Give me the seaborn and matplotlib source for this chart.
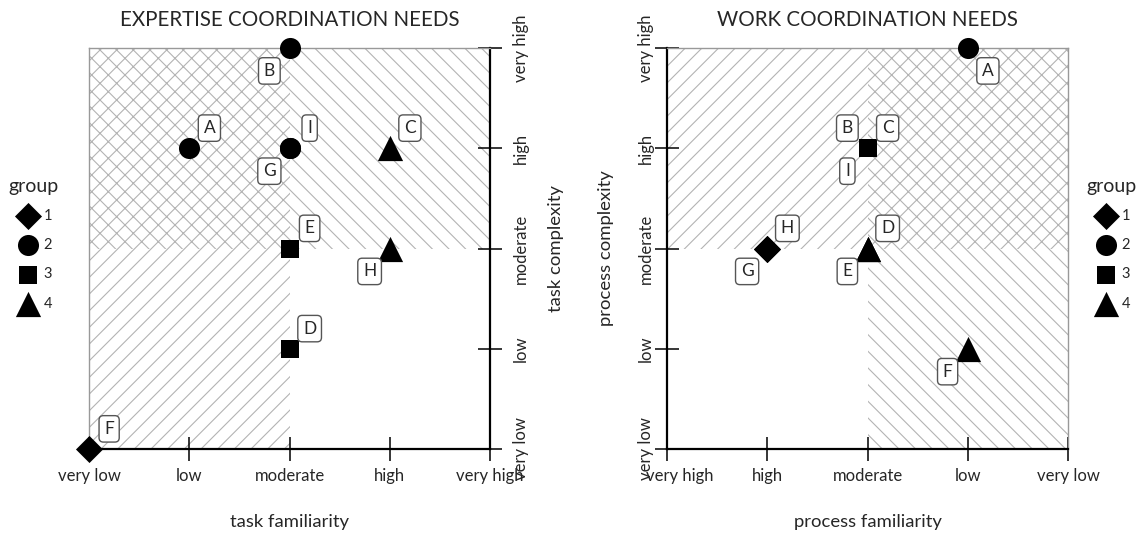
import matplotlib
matplotlib.use("Agg")
import matplotlib.pyplot as plt
import matplotlib.transforms as mtransforms
from matplotlib.patches import Rectangle
import pandas as pd
import seaborn as sns

sns.set_style("white")
plt.rcParams["font.family"] = ["Lato", "DejaVu Sans"]
plt.rcParams["hatch.linewidth"] = 0.8

# ------------------------------------------------------------
# data
# ------------------------------------------------------------
projects = ["A", "B", "C", "D", "E", "F", "G", "H", "I"]

# expertise coordination (left panel)
task_familiarity = ["low", "moderate", "high", "moderate", "moderate",
                    "very low", "moderate", "high", "moderate"]
task_complexity = ["high", "very high", "high", "low", "moderate",
                   "very low", "high", "moderate", "high"]
expertise_group = [2, 2, 4, 3, 3, 1, 2, 4, 2]

# work coordination (right panel)
process_familiarity = ["low", "moderate", "moderate", "moderate", "moderate",
                       "low", "high", "high", "moderate"]
process_complexity = ["very high", "high", "high", "moderate", "moderate",
                      "low", "moderate", "moderate", "high"]
work_group = [2, 3, 3, 4, 4, 4, 1, 1, 3]

levels_up = ["very low", "low", "moderate", "high", "very high"]
levels_down = ["very high", "high", "moderate", "low", "very low"]
groups = [1, 2, 3, 4]

# styles
group_marker = {1: "D", 2: "o", 3: "s", 4: "^"}
group_size = {1: 190, 2: 230, 3: 170, 4: 330}
# where the letter box sits relative to the point
label_offset = {"ur": (14.5, 14.5), "ll": (-14.5, -16.5),
                "lr": (14.5, -16.5), "ul": (-14.5, 14.5)}
left_place = ["ur", "ll", "ur", "ur", "ur", "ur", "ll", "ll", "ur"]
right_place = ["lr", "ul", "ur", "ur", "ll", "ll", "ll", "ur", "ll"]

HATCH = "#b3b3b3"


def panel(ax, x, y, grp, place, xlevels, shading, title, xlab, ylab, yside):
    df = pd.DataFrame({
        "x": [xlevels.index(v) for v in x],
        "y": [levels_up.index(v) for v in y],
        "group": grp,
        "project": projects,
    })

    # shaded quadrants
    for (x0, y0), h in shading.items():
        ax.add_patch(Rectangle((x0, y0), 2, 2, facecolor="white",
                               edgecolor=HATCH, linewidth=0, hatch=h, zorder=0))

    for g in groups:
        sub = df[df["group"] == g]
        sns.scatterplot(data=sub, x="x", y="y", marker=group_marker[g],
                        s=group_size[g], color="black", edgecolor="black",
                        linewidth=0, label=str(g), clip_on=False, zorder=3, ax=ax)

    for _, r in df.iterrows():
        ax.annotate(r["project"], (r["x"], r["y"]),
                    xytext=label_offset[place[_]], textcoords="offset points",
                    ha="center", va="center", fontsize=12.5, zorder=4,
                    bbox=dict(boxstyle="round,pad=0.3,rounding_size=0.25",
                              fc="white", ec="#555555", lw=1))

    ax.set_xlim(0, 4)
    ax.set_ylim(0, 4)
    ax.set_xticks(range(5))
    ax.set_xticklabels(xlevels, fontsize=12)
    ax.set_yticks(range(5))
    ax.set_yticklabels(levels_up, rotation=90, va="center", fontsize=12)
    ax.tick_params(axis="both", direction="inout", length=17, width=1.1,
                   color="black", bottom=True)
    ax.tick_params(axis="x", pad=5)
    ax.set_xlabel(xlab, fontsize=13.3, labelpad=22)
    ax.set_title(title, fontsize=14.8, pad=16)

    if yside == "right":
        ax.yaxis.tick_right()
        ax.yaxis.set_label_position("right")
        ax.tick_params(axis="y", pad=8, right=True, left=False)
        ax.set_ylabel(ylab, fontsize=13.3, rotation=90, labelpad=14)
        strong, weak = ["bottom", "right"], ["top", "left"]
    else:
        ax.tick_params(axis="y", pad=1, left=True, right=False)
        ax.set_ylabel(ylab, fontsize=13.3, labelpad=17)
        strong, weak = ["bottom", "left"], ["top", "right"]
    for s in strong:
        ax.spines[s].set_color("black")
        ax.spines[s].set_linewidth(1.6)
    for s in weak:
        ax.spines[s].set_color("#999999")
        ax.spines[s].set_linewidth(1.0)
    ax.legend_.remove()
    return ax


fig = plt.figure(figsize=(11.48, 5.34), dpi=100)
ax1 = fig.add_axes([89 / 1148, 1 - 449 / 534, 401 / 1148, 401 / 534])
ax2 = fig.add_axes([667 / 1148, 1 - 449 / 534, 401 / 1148, 401 / 534])

panel(ax1, task_familiarity, task_complexity, expertise_group, left_place,
      levels_up, {(0, 2): "xx", (2, 2): "\\\\", (0, 0): "//"},
      "EXPERTISE COORDINATION NEEDS", "task familiarity", "task complexity", "right")
panel(ax2, process_familiarity, process_complexity, work_group, right_place,
      levels_down, {(0, 2): "//", (2, 2): "xx", (2, 0): "\\\\"},
      "WORK COORDINATION NEEDS", "process familiarity", "process complexity", "left")

# nudge the first x label of the right panel clear of the rotated y label
first = ax2.get_xticklabels()[0]
first.set_transform(first.get_transform() +
                    mtransforms.ScaledTranslation(13 / 100, 0, fig.dpi_scale_trans))

# group legends outside each panel
for ax, xpos in [(ax1, 3 / 1148), (ax2, 1081 / 1148)]:
    handles, labels = ax.get_legend_handles_labels()
    leg = fig.legend(handles, labels, title="group", loc="upper left",
                     bbox_to_anchor=(xpos, 1 - 172 / 534), frameon=False,
                     fontsize=10.5, title_fontsize=14, handletextpad=0.3,
                     labelspacing=1.05, borderaxespad=0, handlelength=1.6)
    leg._legend_box.sep = 10

plt.savefig("out.png", dpi=100)
